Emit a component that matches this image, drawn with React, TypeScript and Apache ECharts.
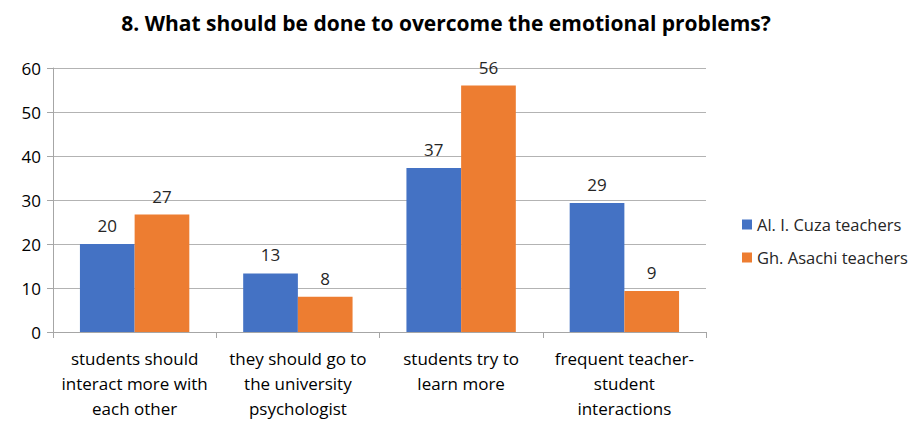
import React, { useEffect, useRef } from "react";
import * as echarts from "echarts";

const titleText = "8. What should be done to overcome the emotional problems?";
const categories = [
  "students should\ninteract more with\neach other",
  "they should go to\nthe university\npsychologist",
  "students try to\nlearn more",
  "frequent teacher-\nstudent\ninteractions",
];
const seriesNames = ["Al. I. Cuza teachers", "Gh. Asachi teachers"];
const cuzaValues = [20, 13.3, 37.3, 29.3];
const asachiValues = [26.7, 8, 56, 9.3];
const yTicks = { min: 0, max: 60, interval: 10 };

const FONT = "'Open Sans', sans-serif";

export default function App() {
  const ref = useRef<HTMLDivElement>(null);
  useEffect(() => {
    if (!ref.current) return;
    const chart = echarts.init(ref.current, null, { renderer: "svg" });
    const label = {
      show: true,
      position: "top" as const,
      distance: 10,
      color: "#262626",
      fontSize: 17,
      fontFamily: FONT,
      formatter: (p: any) => String(Math.round(p.value)),
    };
    chart.setOption({
      animation: false,
      title: {
        text: titleText,
        left: 441,
        textAlign: "center",
        top: 7,
        textStyle: { fontSize: 21, fontWeight: "bold", color: "#000", fontFamily: FONT },
      },
      legend: {
        orient: "vertical",
        left: 737,
        top: 211,
        itemWidth: 10,
        itemHeight: 10,
        itemGap: 16,
        icon: "rect",
        textStyle: { fontSize: 16.5, color: "#262626", fontFamily: FONT },
        data: seriesNames,
      },
      grid: { left: 53, right: 203, top: 68, bottom: 92, containLabel: false },
      xAxis: {
        type: "category",
        data: categories,
        axisLine: { lineStyle: { color: "#a6a6a6", width: 1 } },
        axisTick: { show: true, length: 6, lineStyle: { color: "#a6a6a6" } },
        axisLabel: {
          color: "#000",
          fontSize: 17,
          fontFamily: FONT,
          lineHeight: 25,
          margin: 14,
          interval: 0,
        },
      },
      yAxis: {
        type: "value",
        min: yTicks.min,
        max: yTicks.max,
        interval: yTicks.interval,
        axisLine: { show: true, lineStyle: { color: "#a6a6a6" } },
        axisTick: { show: true, length: 6, lineStyle: { color: "#a6a6a6" } },
        splitLine: { lineStyle: { color: "#b3b3b3" } },
        axisLabel: { color: "#000", fontSize: 17, fontFamily: FONT, margin: 12 },
      },
      series: [
        {
          name: seriesNames[0],
          type: "bar",
          data: cuzaValues,
          barGap: "0%",
          barCategoryGap: "33%",
          itemStyle: { color: "#4472C4" },
          label,
        },
        {
          name: seriesNames[1],
          type: "bar",
          data: asachiValues,
          barGap: "0%",
          barCategoryGap: "33%",
          itemStyle: { color: "#ED7D31" },
          label,
        },
      ],
    });
    return () => chart.dispose();
  }, []);
  return (
    <div
      ref={ref}
      style={{ position: "absolute", left: 0, top: 0, width: 909, height: 424, background: "#fff" }}
    />
  );
}
